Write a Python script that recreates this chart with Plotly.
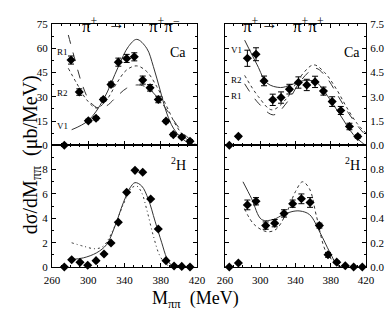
import plotly.graph_objects as go
from plotly.subplots import make_subplots

# ---------------- data ----------------
# upper-left: pi+ -> pi+ pi-, Ca
ul_x = [273.6, 281.0, 290.1, 300.1, 308.6, 316.6, 325.1, 333.2, 342.4, 350.8, 360.1, 368.2, 377.3, 385.8, 393.9, 403.2, 412.3, 420.8]
ul_y = [0.0, 52.7, 32.9, 15.1, 16.7, 28.3, 37.6, 51.4, 53.7, 54.7, 40.3, 35.5, 28.3, 14.9, 6.6, 5.1, 2.5, 0.0]
ul_e = [0, 2.5, 2.0, 1.0, 1.0, 1.0, 1.5, 2.5, 2.5, 2.5, 2.5, 2.0, 2.0, 1.0, 1.0, 1.0, 1.0, 0]
ul_v1_x = [281.7, 300.1, 316.6, 333.2, 344.3, 353.5, 364.5, 371.9, 379.2, 386.6, 393.9, 403.2, 412.3, 420.0]
ul_v1_y = [9.6, 15.3, 28.1, 48.6, 61.0, 65.5, 60.0, 48.6, 34.3, 19.9, 10.6, 4.4, 0.9, 0.0]
ul_r1_x = [278.0, 285.4, 292.8, 301.9, 311.1, 320.3, 331.4, 342.4, 353.5, 364.5, 375.6, 386.6, 397.6, 408.6, 419.6]
ul_r1_y = [68.2, 52.8, 38.4, 27.0, 23.0, 24.4, 30.1, 35.3, 37.3, 35.9, 30.1, 21.9, 12.7, 5.4, 0.9]
ul_r2_x = [278.0, 287.2, 298.3, 309.3, 320.3, 331.4, 342.4, 353.5, 364.5, 375.6, 386.6, 397.6, 408.6, 419.6]
ul_r2_y = [47.6, 38.4, 28.1, 23.0, 28.1, 38.4, 46.6, 49.1, 45.6, 36.3, 24.0, 11.6, 3.8, 0.3]

# upper-right: pi+ -> pi+ pi+, Ca
ur_x = [264.9, 275.2, 285.4, 295.2, 304.3, 314.2, 323.6, 333.1, 343.3, 352.8, 362.2, 371.7, 381.6, 391.4, 401.2, 410.7, 420.9]
ur_y = [0.0, 0.55, 5.38, 5.63, 3.98, 2.81, 2.95, 3.47, 3.88, 3.73, 3.92, 3.35, 2.70, 2.15, 1.16, 0.54, 0.0]
ur_e = [0, 0.05, 0.5, 0.4, 0.3, 0.35, 0.35, 0.3, 0.35, 0.35, 0.35, 0.25, 0.3, 0.25, 0.2, 0.1, 0]
ur_v1_x = [282.3, 296.5, 307.8, 323.0, 334.4, 349.5, 362.7, 371.7, 390.6, 405.8, 417.0, 420.0]
ur_v1_y = [6.5, 4.97, 3.84, 3.57, 3.73, 4.0, 3.93, 3.4, 1.88, 0.65, 0.1, 0.0]
ur_r2_x = [282.3, 298.0, 313.2, 330.0, 345.0, 360.5, 373.0, 386.9, 398.0, 409.6, 420.0]
ur_r2_y = [4.32, 3.0, 2.19, 2.9, 4.2, 4.97, 4.5, 3.43, 2.35, 1.37, 0.75]
ur_r1_x = [282.3, 298.0, 315.1, 331.0, 346.0, 362.7, 375.0, 388.8, 400.0, 413.4, 420.0]
ur_r1_y = [3.8, 2.6, 1.88, 2.7, 4.0, 4.76, 4.2, 3.0, 2.0, 1.0, 0.6]

# lower-left: pi+ -> pi+ pi-, 2H
ll_x = [273.6, 281.7, 290.9, 299.4, 308.6, 317.4, 325.1, 333.2, 342.4, 351.6, 360.1, 368.9, 377.3, 385.8, 394.7, 403.2, 412.3, 420.8]
ll_y = [0.0, 0.6, 0.38, 0.14, 0.52, 1.07, 1.97, 3.67, 6.13, 7.94, 7.78, 5.58, 3.12, 0.52, 0.08, 0.05, 0.0, 0.0]
ll_s_x = [281.7, 294.6, 309.3, 320.3, 329.5, 338.7, 346.1, 351.6, 359.0, 366.3, 373.7, 381.1, 386.6, 392.1, 398.0]
ll_s_y = [0.62, 0.75, 1.17, 1.85, 3.36, 5.28, 6.5, 6.93, 6.65, 5.56, 3.77, 1.99, 0.75, 0.12, 0.0]
ll_d_x = [281.7, 294.6, 307.5, 316.6, 327.7, 338.7, 348.0, 353.5, 359.0, 364.5, 371.9, 379.2, 386.6, 392.0]
ll_d_y = [1.99, 1.71, 1.5, 1.71, 3.09, 5.14, 6.5, 6.65, 6.1, 4.73, 2.54, 0.89, 0.2, 0.0]

# lower-right: pi+ -> pi+ pi+, 2H
lr_x = [264.9, 275.2, 285.4, 295.2, 306.2, 316.4, 327.0, 336.8, 346.7, 356.5, 367.1, 376.9, 386.8, 396.5, 406.0, 415.8, 423.9]
lr_y = [0.0, 0.033, 0.51, 0.54, 0.34, 0.36, 0.44, 0.52, 0.56, 0.53, 0.34, 0.10, 0.04, 0.01, 0.0, 0.0, 0.0]
lr_e = [0, 0, 0.04, 0.03, 0.03, 0.03, 0.03, 0.03, 0.04, 0.04, 0.02, 0.02, 0.01, 0, 0, 0, 0]
lr_s_x = [280.4, 290.3, 301.6, 314.8, 326.0, 336.0, 345.0, 356.0, 368.0, 379.0, 388.0, 393.0]
lr_s_y = [0.70, 0.56, 0.39, 0.39, 0.43, 0.455, 0.46, 0.43, 0.28, 0.12, 0.01, 0.0]
lr_d_x = [282.0, 293.0, 307.6, 318.0, 330.0, 340.0, 348.0, 356.0, 363.7, 374.9, 386.0, 392.0]
lr_d_y = [0.48, 0.35, 0.29, 0.31, 0.45, 0.62, 0.70, 0.64, 0.42, 0.12, 0.03, 0.0]

title_parts = [["π<sup>+</sup>", "→", "π<sup>+</sup>π<sup>−</sup>"],
               ["π<sup>+</sup>", "→", "π<sup>+</sup>π<sup>+</sup>"]]
x_ticks = [260, 300, 340, 380, 420]

FONT = "Liberation Serif"
fig = make_subplots(rows=2, cols=2)

def markers(x, y, e, row, col):
    err = dict(type="data", array=e, visible=True, color="black", thickness=1, width=3) if e else None
    fig.add_trace(go.Scatter(x=x, y=y, mode="markers", error_y=err,
                             marker=dict(symbol="diamond", size=7, color="black"),
                             cliponaxis=False, showlegend=False), row=row, col=col)

def curve(x, y, dash, row, col):
    fig.add_trace(go.Scatter(x=x, y=y, mode="lines",
                             line=dict(color="#333", width=1, dash=dash, shape="spline", smoothing=1.0),
                             showlegend=False), row=row, col=col)

curve(ul_v1_x, ul_v1_y, "solid", 1, 1)
curve(ul_r1_x, ul_r1_y, "dash", 1, 1)
curve(ul_r2_x, ul_r2_y, "dot", 1, 1)
markers(ul_x, ul_y, ul_e, 1, 1)

curve(ur_v1_x, ur_v1_y, "solid", 1, 2)
curve(ur_r1_x, ur_r1_y, "dash", 1, 2)
curve(ur_r2_x, ur_r2_y, "dot", 1, 2)
markers(ur_x, ur_y, ur_e, 1, 2)

curve(ll_s_x, ll_s_y, "solid", 2, 1)
curve(ll_d_x, ll_d_y, "2px,3px,1px,3px", 2, 1)
markers(ll_x, ll_y, None, 2, 1)

curve(lr_s_x, lr_s_y, "solid", 2, 2)
curve(lr_d_x, lr_d_y, "dot", 2, 2)
markers(lr_x, lr_y, lr_e, 2, 2)

W, H = 389, 314
L, R, T, B = 52, 23, 24, 46.5
pw, ph = W - L - R, H - T - B
def px(v): return (v - L) / pw
def py(v): return (H - B - v) / ph

xl = [0, px(197)]
xr = [px(225), 1]
yu = [py(145.5), 1]
yl = [0, py(145.5)]

tickfont = dict(family=FONT, size=11, color="black")
common = dict(showline=True, linecolor="black", linewidth=1, mirror="allticks",
              ticks="inside", ticklen=4, tickcolor="black", showgrid=False,
              zeroline=False, tickfont=tickfont, automargin=False)

def xaxis(domain, anchor, labels):
    return dict(domain=domain, anchor=anchor, range=[260, 420], tickvals=x_ticks,
                showticklabels=labels, ticklabelstandoff=3,
                minor=dict(ticks="inside", ticklen=2, dtick=10, tickcolor="black"), **common)

def yaxis(domain, anchor, rng, vals, minor, side, fmt):
    return dict(domain=domain, anchor=anchor, range=rng, tickvals=vals, side=side,
                tickformat=fmt, ticklabelstandoff=1,
                minor=dict(ticks="inside", ticklen=2, dtick=minor, tickcolor="black"), **common)

fig.update_layout(
    template="none",
    xaxis=xaxis(xl, "y", False),
    xaxis2=xaxis(xr, "y2", False),
    xaxis3=xaxis(xl, "y3", True),
    xaxis4=xaxis(xr, "y4", True),
    yaxis=yaxis(yu, "x", [0, 75], [0, 15, 30, 45, 60, 75], 7.5, "left", "d"),
    yaxis2=yaxis(yu, "x2", [0, 7.5], [0, 1.5, 3, 4.5, 6, 7.5], 0.75, "right", ".1f"),
    yaxis3=yaxis(yl, "x3", [0, 10], [0, 2, 4, 6, 8], 1, "left", "d"),
    yaxis4=yaxis(yl, "x4", [0, 1.0], [0, 0.2, 0.4, 0.6, 0.8], 0.1, "right", ".1f"),
)

ann = []
def text(x, y, t, size, **kw):
    ann.append(dict(x=x, y=y, xref="paper", yref="paper", text=t, showarrow=False,
                    font=dict(family=FONT, size=size, color="black"), **kw))

for parts, xs in zip(title_parts, [(80, 106, 147), (251, 280, 326)]):
    for t, x0 in zip(parts, xs):
        text(px(x0), py(12), t, 17)
text(px(17), py(155), "dσ/dM<sub>ππ</sub>  (μb/MeV)", 20, textangle=-90)
text(px(195), py(287), "M<sub>ππ</sub>  (MeV)", 18, yanchor="top")
text(px(188), py(43), "Ca", 14, xanchor="right")
text(px(362), py(43), "Ca", 14, xanchor="right")
text(px(188), py(164), "<sup>2</sup>H", 14, xanchor="right")
text(px(362), py(164), "<sup>2</sup>H", 14, xanchor="right")
for (x0, y0, t) in [(55, 45, "R1"), (55, 86, "R2"), (55, 126, "V1"),
                    (229, 43, "V1"), (229, 73, "R2"), (229, 89, "R1")]:
    text(px(x0), py(y0), t, 9, xanchor="left")

fig.update_layout(annotations=ann, width=W, height=H,
                  margin=dict(l=L, r=R, t=T, b=B),
                  paper_bgcolor="white", plot_bgcolor="white")
fig.write_html("out.html", config={"displayModeBar": False},
               post_script="document.body.style.margin='0px';document.body.style.overflow='hidden';")
